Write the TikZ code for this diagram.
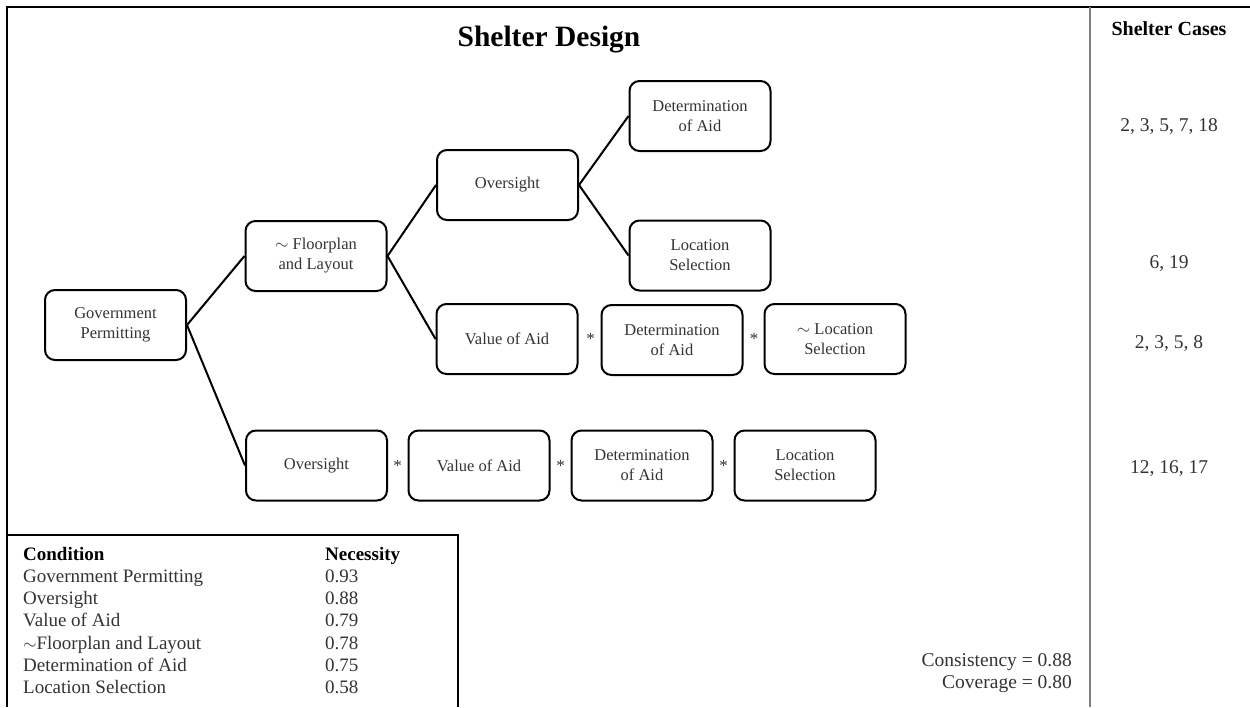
\documentclass[tikz,border=0pt]{standalone}
\usepackage{fontspec}
\setmainfont{Liberation Serif}
\definecolor{txt}{HTML}{333333}
\definecolor{sep}{HTML}{7F7F7F}
\begin{document}
\begin{tikzpicture}[x=1pt,y=-1pt,
  box/.style={draw, line width=2pt, rounded corners=10pt, minimum width=141pt, minimum height=70pt, align=center, inner sep=0pt, font=\fontsize{16.5}{20}\selectfont, text=txt},
  conn/.style={line width=2pt},
  star/.style={inner sep=0pt, font=\fontsize{17}{20}\selectfont, text=txt},
  tab/.style={anchor=base west, inner sep=0pt, font=\fontsize{19}{22}\selectfont, text=txt},
  tabh/.style={anchor=base west, inner sep=0pt, font=\fontsize{19}{22}\selectfont\bfseries},
  cases/.style={anchor=base, inner sep=0pt, font=\fontsize{19.5}{22}\selectfont, text=txt},
  stat/.style={anchor=base east, inner sep=0pt, font=\fontsize{19.5}{22}\selectfont, text=txt}]
\useasboundingbox (0,0) rectangle (1250,707);
% frame
\draw[line width=2pt] (7,707) -- (7,7) -- (1250,7);
\draw[line width=2pt] (7,535) -- (458,535) -- (458,707);
\draw[line width=2pt, sep] (1090,7) -- (1090,707);
% titles
\node[anchor=base, inner sep=0pt, font=\fontsize{29.5}{32}\selectfont\bfseries] (title) at (549,46) {Shelter Design};
\node[anchor=base, inner sep=0pt, font=\fontsize{20}{22}\selectfont\bfseries] (sctitle) at (1169,35) {Shelter Cases};
% boxes
\node[box] (gp) at (115.5,325) {Government\\Permitting};
\node[box] (fl) at (316,256) {$\sim$ Floorplan\\and Layout};
\node[box] (ov1) at (507.5,185) {Oversight};
\node[box] (det1) at (700,116) {Determination\\of Aid};
\node[box] (loc1) at (700,255.5) {Location\\Selection};
\node[box] (va1) at (507,339) {Value of Aid};
\node[box] (det2) at (672,340) {Determination\\of Aid};
\node[box] (nloc) at (835,339) {$\sim$ Location\\Selection};
\node[box] (ov2) at (316.5,465.5) {Oversight};
\node[box] (va2) at (479,465.5) {Value of Aid};
\node[box] (det3) at (642,465.5) {Determination\\of Aid};
\node[box] (loc2) at (805,465.5) {Location\\Selection};
% asterisks
\node[star] (s1) at (590.5,339) {*};
\node[star] (s2) at (754,339) {*};
\node[star] (s3) at (397.5,466) {*};
\node[star] (s4) at (560.5,466) {*};
\node[star] (s5) at (723.5,466) {*};
% connectors
\draw[conn] (gp.east) -- (fl.west);
\draw[conn] (gp.east) -- (ov2.west);
\draw[conn] (fl.east) -- (ov1.west);
\draw[conn] (fl.east) -- (va1.west);
\draw[conn] (ov1.east) -- (det1.west);
\draw[conn] (ov1.east) -- (loc1.west);
% cases
\node[cases] (c1) at (1169,131) {2, 3, 5, 7, 18};
\node[cases] (c2) at (1169,268) {6, 19};
\node[cases] (c3) at (1169,348) {2, 3, 5, 8};
\node[cases] (c4) at (1169,473) {12, 16, 17};
% table
\node[tabh] (th1) at (23,560) {Condition};
\node[tabh] (th2) at (325,560) {Necessity};
\node[tab] (r1a) at (23,582.3) {Government Permitting};
\node[tab] (r1b) at (325,582.3) {0.93};
\node[tab] (r2a) at (23,604.6) {Oversight};
\node[tab] (r2b) at (325,604.6) {0.88};
\node[tab] (r3a) at (23,626.9) {Value of Aid};
\node[tab] (r3b) at (325,626.9) {0.79};
\node[tab] (r4a) at (23,649.2) {$\sim$Floorplan and Layout};
\node[tab] (r4b) at (325,649.2) {0.78};
\node[tab] (r5a) at (23,671.5) {Determination of Aid};
\node[tab] (r5b) at (325,671.5) {0.75};
\node[tab] (r6a) at (23,693.8) {Location Selection};
\node[tab] (r6b) at (325,693.8) {0.58};
% stats
\node[stat] (cons) at (1072,666) {Consistency = 0.88};
\node[stat] (cov) at (1072,688) {Coverage = 0.80};
\end{tikzpicture}
\end{document}
